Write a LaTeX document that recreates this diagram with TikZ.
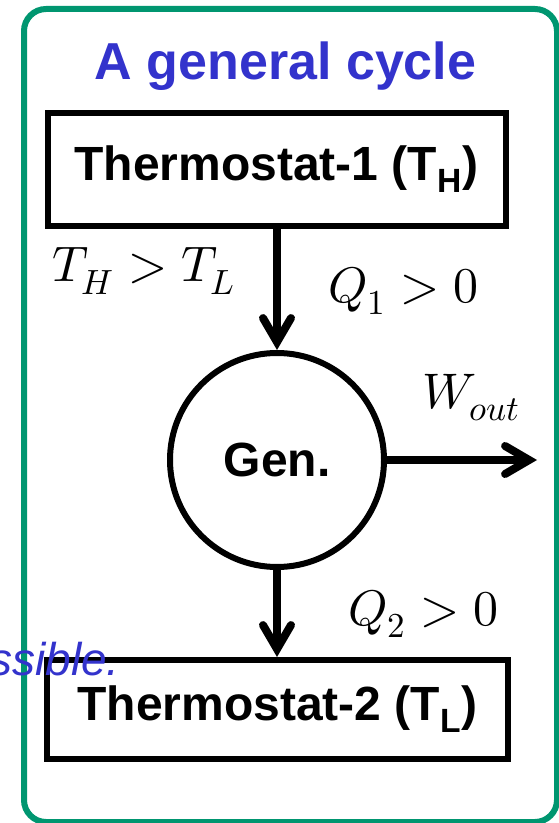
\documentclass[tikz,border=0pt]{standalone}
\usepackage{fontspec}
\usepackage{unicode-math}
\setsansfont{Liberation Sans}
\usetikzlibrary{positioning, arrows.meta}
\definecolor{frameGreen}{RGB}{0,150,112}
\definecolor{titleBlue}{RGB}{51,51,204}

\begin{document}
\begin{tikzpicture}[
  x=0.5pt, y=-0.5pt,
  font=\sffamily,
  cycleframe/.style={draw=frameGreen, line width=3pt, rounded corners=11pt},
  thermo/.style={draw, line width=3pt, inner sep=0pt,
    font=\sffamily\bfseries\fontsize{24}{28}\selectfont},
  genCircle/.style={draw, circle, line width=3pt, minimum size=107pt, inner sep=0pt,
    font=\sffamily\bfseries\fontsize{24}{28}\selectfont},
  lbl/.style={inner sep=0pt, anchor=base west, font=\fontsize{25}{30}\selectfont},
  flow/.style={line width=4pt, -{Straight Barb[length=12pt, width=14pt, line cap=round]}},
]
  \useasboundingbox (0,0) rectangle (558,823);
  \draw[cycleframe] (24,9) rectangle (557,822);

  \node[anchor=base, text=titleBlue, inner sep=0pt,
    font=\sffamily\bfseries\fontsize{26}{31}\selectfont] (title) at (285.5,80) {A general cycle};

  \node[thermo, minimum width=229pt, minimum height=56.5pt] (hot) at (276.5,169.5)
    {Thermostat-1 (T\textsubscript{H})};
  \node[genCircle] (gen) at (277,460) {Gen.};
  \node[thermo, minimum width=230.5pt, minimum height=49.5pt] (cold) at (277.5,709.5)
    {Thermostat-2 (T\textsubscript{L})};

  % labels
  \node[lbl] (tcond) at (52,282)  {$T_H > T_L$};
  \node[lbl] (q1)    at (328,302) {$Q_1 > 0$};
  \node[lbl] (wout)  at (422,408) {$W_{out}$};
  \node[lbl] (q2)    at (348,625) {$Q_2 > 0$};
  \node[inner sep=0pt, anchor=base east, text=titleBlue,
    font=\sffamily\itshape\fontsize{23}{28}\selectfont] (note) at (120,675) {ssible.};

  \coordinate (wtip) at (537,460);
  \draw[flow] (hot.south -| gen.north) -- (gen.north);
  \draw[flow] (gen.east) -- (wtip);
  \draw[flow] (gen.south) -- (gen.south |- cold.north);
\end{tikzpicture}
\end{document}
